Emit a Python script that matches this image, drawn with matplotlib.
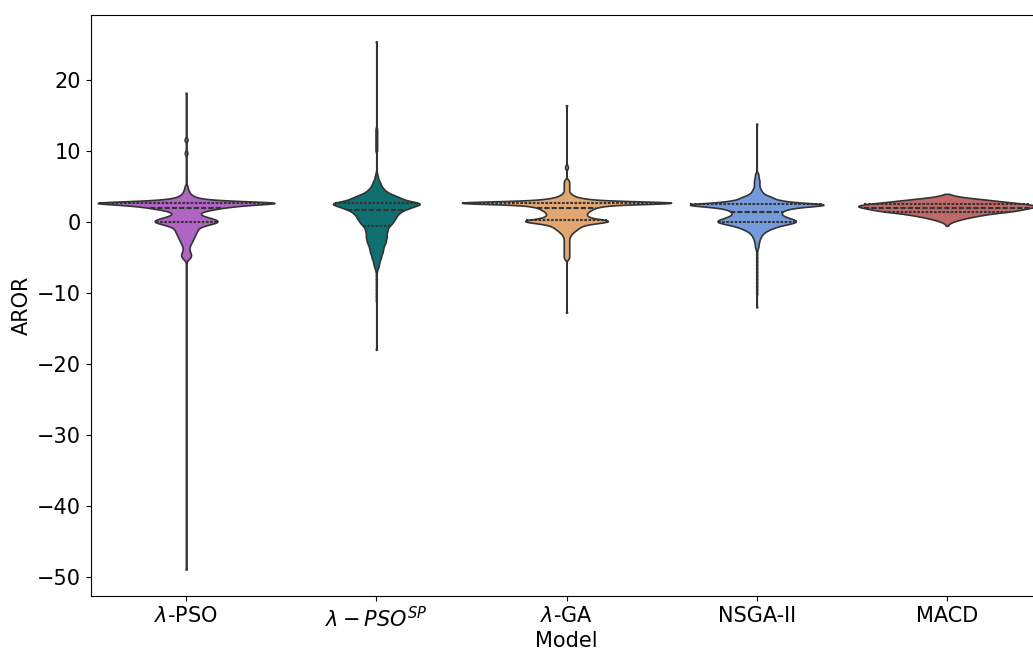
import numpy as np
import pandas as pd
import matplotlib
matplotlib.use("Agg")
import matplotlib.pyplot as plt
import seaborn as sns

plt.rcParams["font.size"] = 15

models = [r"$\lambda$-PSO", r"$\lambda-PSO^{SP}$", r"$\lambda$-GA", "NSGA-II", "MACD"]
colors = ["mediumorchid", "teal", "sandybrown", "cornflowerblue", "indianred"]

# AROR per run, binned to 0.25 steps: value -> number of runs
pso_values = [18.25, 11.75, 11.5, 10.0, 9.75, 9.5, 5.25,
              5.0, 4.75, 4.5, 4.25, 4.0, 3.75, 3.5, 3.25, 3.0, 2.75,
              2.5, 2.25, 2.0, 1.75, 1.5, 1.25, 1.0, 0.75, 0.5, 0.25,
              0.0, -0.25, -0.5, -0.75, -1.0, -1.25, -1.5, -1.75, -2.0, -2.25,
              -2.5, -2.75, -3.0, -3.25, -3.5, -3.75, -4.0, -4.25, -4.5, -4.75,
              -5.0, -5.25, -5.5, -49.0]
pso_counts = [1, 2, 2, 1, 2, 1, 1,
              2, 2, 3, 4, 5, 8, 12, 22, 50, 135,
              80, 58, 42, 30, 20, 16, 18, 24, 32, 38,
              38, 30, 22, 16, 14, 13, 12, 11, 10, 9,
              8, 7, 6, 5, 4, 4, 4, 5, 6, 6,
              5, 3, 1, 1]

psosp_values = [25.5, 13.25, 13.0, 12.75, 12.5, 12.25, 12.0, 11.75, 11.5,
                11.25, 11.0, 10.75, 10.5, 10.25, 10.0, 7.0, 6.75, 6.5, 6.25,
                6.0, 5.75, 5.5, 5.25, 5.0, 4.75, 4.5, 4.25, 4.0, 3.75,
                3.5, 3.25, 3.0, 2.75, 2.5, 2.25, 2.0, 1.75, 1.5, 1.25,
                1.0, 0.75, 0.5, 0.25, 0.0, -0.25, -0.5, -0.75, -1.0, -1.25,
                -1.5, -1.75, -2.0, -2.25, -2.5, -2.75, -3.0, -3.25, -3.5, -3.75,
                -4.0, -4.25, -4.5, -4.75, -5.0, -5.25, -5.5, -5.75, -6.0, -6.25,
                -6.5, -6.75, -7.0, -7.5, -8.0, -8.5, -9.0, -9.5, -10.0, -10.5,
                -11.0, -18.0]
psosp_counts = [1, 1, 1, 1, 1, 1, 1, 1, 1,
                1, 1, 1, 1, 1, 1, 1, 1, 2, 2,
                3, 4, 5, 6, 7, 9, 11, 14, 18, 24,
                29, 34, 40, 55, 56, 48, 42, 36, 31, 29,
                26, 25, 24, 22, 21, 19, 17, 15, 14, 14,
                13, 13, 13, 13, 12, 12, 11, 10, 9, 9,
                8, 8, 7, 6, 6, 5, 4, 4, 3, 3,
                2, 1, 1, 1, 1, 1, 1, 1, 1, 1,
                1, 1]

ga_values = [16.5, 8.0, 7.75, 7.5, 6.0, 5.75, 5.5,
             5.25, 5.0, 4.75, 4.5, 4.25, 4.0, 3.75, 3.5, 3.25, 3.0,
             2.75, 2.5, 2.25, 2.0, 1.75, 1.5, 1.25, 1.0, 0.75, 0.5,
             0.25, 0.0, -0.25, -0.5, -0.75, -1.0, -1.25, -1.5, -1.75, -2.0,
             -2.25, -2.5, -2.75, -3.0, -3.25, -3.5, -3.75, -4.0, -4.25, -4.5,
             -4.75, -5.0, -5.25, -12.75]
ga_counts = [1, 1, 2, 1, 2, 3, 3,
             3, 3, 3, 3, 3, 5, 8, 12, 25, 40,
             170, 50, 40, 30, 28, 24, 22, 22, 24, 30,
             50, 45, 25, 18, 14, 12, 9, 7, 5, 4,
             3, 3, 3, 3, 3, 3, 3, 3, 3, 3,
             3, 3, 2, 1]

nsga_values = [13.9, 7.0, 6.75, 6.5, 6.25, 6.0, 5.75,
               5.5, 5.25, 5.0, 4.75, 4.5, 4.25, 4.0, 3.75, 3.5, 3.25,
               3.0, 2.75, 2.5, 2.25, 2.0, 1.75, 1.5, 1.25, 1.0, 0.75,
               0.5, 0.25, 0.0, -0.25, -0.5, -0.75, -1.0, -1.25, -1.5, -1.75,
               -2.0, -2.25, -2.5, -2.75, -3.0, -3.25, -3.5, -3.75, -4.0, -4.5,
               -5.0, -5.5, -6.0, -6.5, -7.0, -7.5, -8.0, -8.5, -9.0, -9.5,
               -10.0, -12.0]
nsga_counts = [1, 1, 2, 2, 2, 3, 3,
               3, 3, 3, 4, 5, 6, 8, 12, 18, 20,
               30, 45, 90, 60, 40, 32, 28, 27, 28, 32,
               38, 44, 44, 36, 26, 20, 15, 11, 8, 6,
               5, 4, 3, 3, 2, 2, 2, 1, 1, 1,
               1, 1, 1, 1, 1, 1, 1, 1, 1, 1,
               1, 1]

macd_values = [4.0, 3.75, 3.5, 3.25, 3.0, 2.75, 2.5, 2.25, 2.0, 1.75,
               1.5, 1.25, 1.0, 0.75, 0.5, 0.25, 0.0, -0.25, -0.5]
macd_counts = [1, 8, 18, 38, 55, 72, 92, 100, 90, 80,
               70, 50, 38, 28, 18, 12, 5, 2, 1]

groups = [(pso_values, pso_counts), (psosp_values, psosp_counts),
          (ga_values, ga_counts), (nsga_values, nsga_counts),
          (macd_values, macd_counts)]

rows = []
for name, (vals, cnts) in zip(models, groups):
    for v in np.repeat(vals, cnts):
        rows.append((name, v))
df = pd.DataFrame(rows, columns=["Model", "AROR"])

# fixed kernel width (in AROR units) so the spikes stay sharp in every group
KDE_BW = 0.18

fig = plt.figure(figsize=(10.33, 6.5), dpi=100)
ax = fig.add_axes([91 / 1033, 54 / 650, 951 / 1033, 581 / 650])

sns.violinplot(data=df, x="Model", y="AROR", hue="Model", order=models,
               hue_order=models, palette=colors, legend=False,
               inner="quart", inner_kws={"linewidth": 1.5},
               cut=0, width=1.1, density_norm="area", common_norm=True,
               bw_method=lambda k: KDE_BW / k.dataset.std(ddof=1),
               gridsize=1000, linewidth=1.2, linecolor="#333333", ax=ax)

ax.set_xlabel("Model", labelpad=0)
ax.set_ylabel("AROR")

fig.savefig("out.png", dpi=100)
